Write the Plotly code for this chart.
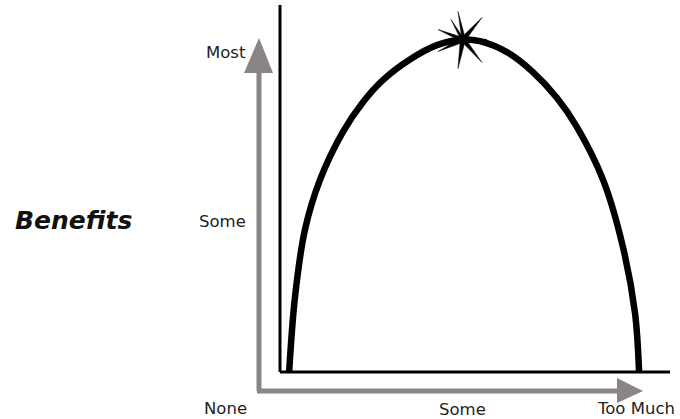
import math
import plotly.graph_objects as go

# ---- data (conceptual "dose" vs "benefit", 0..10 scale) ----
dose = [0.25, 0.41, 0.68, 1.09, 1.72, 2.27, 2.81, 3.55, 4.29, 5.0,
        5.46, 6.20, 6.91, 7.57, 8.11, 8.83, 9.37, 9.70, 9.81]
benefit = [0.0, 2.26, 4.27, 5.77, 7.22, 8.12, 8.78, 9.40, 9.83, 10.0,
           9.95, 9.62, 9.02, 8.24, 7.37, 5.77, 3.76, 1.77, 0.0]
peak = (5.0, 10.0)
x_tick_labels = ["None", "Some", "Too Much"]
y_tick_labels = ["None", "Some", "Most"]
y_title = "Benefits"

# ---- pixel <-> data mapping (figure 680x419, zero margins) ----
W, H = 680, 419
OX, OY = 280, 372          # pixel position of data origin
SX, SY = 36.6, 33.25       # pixels per data unit

def dx(px):
    return (px - OX) / SX

def dy(py):
    return (OY - py) / SY

fig = go.Figure()

fig.add_trace(go.Scatter(
    x=dose, y=benefit, mode="lines",
    line=dict(color="black", width=6.5, shape="spline", smoothing=1.0),
    hoverinfo="skip", showlegend=False,
))

shapes = []
# black axes
shapes.append(dict(type="line", x0=0, y0=0, x1=0, y1=dy(5), line=dict(color="black", width=3)))
shapes.append(dict(type="line", x0=0, y0=0, x1=dx(670), y1=0, line=dict(color="black", width=3)))

gray = "#8a8485"
# gray vertical arrow
shapes.append(dict(type="line", x0=dx(259), y0=dy(391), x1=dx(259), y1=dy(70), line=dict(color=gray, width=5)))
shapes.append(dict(type="path",
                   path=f"M {dx(244)},{dy(73)} L {dx(259)},{dy(38)} L {dx(273)},{dy(73)} Z",
                   fillcolor=gray, line=dict(color=gray, width=0)))
# gray horizontal arrow
shapes.append(dict(type="line", x0=dx(257), y0=dy(391), x1=dx(620), y1=dy(391), line=dict(color=gray, width=5)))
shapes.append(dict(type="path",
                   path=f"M {dx(617)},{dy(378)} L {dx(643)},{dy(391)} L {dx(617)},{dy(403)} Z",
                   fillcolor=gray, line=dict(color=gray, width=0)))

# star at peak
cxp, cyp = OX + peak[0] * SX, OY - peak[1] * SY
tips = [(-5, -28), (19, -22), (24, 0), (19, 23), (-5, 29), (-25, 12), (-25, -10), (-12, -20)]
pts = []
n = len(tips)
for i, (tx, ty) in enumerate(tips):
    pts.append((cxp + tx, cyp + ty))
    nx, ny = tips[(i + 1) % n]
    a1 = math.atan2(ty, tx)
    a2 = math.atan2(ny, nx)
    if a2 < a1:
        a2 += 2 * math.pi
    am = (a1 + a2) / 2
    pts.append((cxp + 5 * math.cos(am), cyp + 5 * math.sin(am)))
path = "M " + " L ".join(f"{dx(px)},{dy(py)}" for px, py in pts) + " Z"
shapes.append(dict(type="path", path=path, fillcolor="black", line=dict(color="black", width=0.5)))

fig.update_layout(shapes=shapes)

font = dict(family="DejaVu Sans, Verdana, sans-serif", size=16.5, color="#222222")
ann = []
# y labels
ann.append(dict(x=dx(226), y=dy(52), text=y_tick_labels[2], showarrow=False, font=font))
ann.append(dict(x=dx(222), y=dy(221), text=y_tick_labels[1], showarrow=False, font=font))
ann.append(dict(x=dx(225), y=dy(408), text=y_tick_labels[0], showarrow=False, font=font))
# x labels
ann.append(dict(x=dx(462), y=dy(409), text=x_tick_labels[1], showarrow=False, font=font))
ann.append(dict(x=dx(636), y=dy(408), text=x_tick_labels[2], showarrow=False, font=font))
# title
ann.append(dict(x=dx(73), y=dy(220), text=f"<b><i>{y_title}</i></b>", showarrow=False,
                font=dict(family="DejaVu Sans, Verdana, sans-serif", size=25, color="#111111")))
fig.update_layout(annotations=ann)

fig.update_layout(
    width=W, height=H,
    margin=dict(l=0, r=0, t=0, b=0),
    paper_bgcolor="white", plot_bgcolor="white",
    xaxis=dict(range=[dx(0), dx(W)], visible=False, fixedrange=True),
    yaxis=dict(range=[dy(H), dy(0)], visible=False, fixedrange=True),
    showlegend=False,
)

fig.write_html("out.html", config={"displayModeBar": False},
               post_script="document.body.style.margin='0';document.body.style.overflow='hidden';")
